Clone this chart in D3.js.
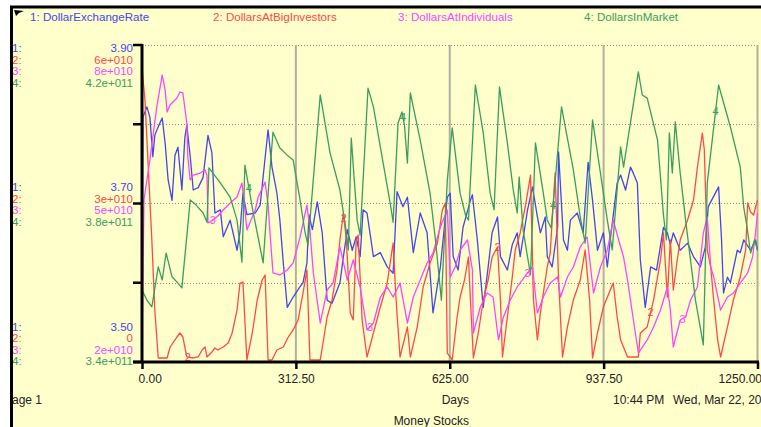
<!DOCTYPE html>
<html>
<head>
<meta charset="utf-8">
<script src="https://cdn.jsdelivr.net/npm/d3@7"></script>
<style>
body { margin: 0; background: #ffffcc; overflow: hidden; }
svg { display: block; font-family: Arial, "Liberation Sans", sans-serif; }
</style>
</head>
<body>
<svg id="chart"></svg>
<script>
// [day, value] pairs
var exchangeRate = [[0,3.578],[2,3.809],[10,3.822],[16,3.809],[22,3.759],[26,3.786],[33,3.797],[41,3.808],[47,3.776],[53,3.730],[61,3.704],[67,3.761],[73,3.771],[81,3.717],[87,3.783],[91,3.799],[98,3.759],[104,3.717],[114,3.720],[124,3.733],[134,3.786],[142,3.764],[148,3.688],[159,3.692],[165,3.658],[179,3.679],[193,3.641],[199,3.664],[205,3.713],[213,3.686],[230,3.688],[240,3.698],[256,3.793],[264,3.746],[274,3.713],[280,3.679],[287,3.625],[295,3.569],[307,3.582],[321,3.595],[327,3.600],[335,3.625],[339,3.686],[346,3.667],[356,3.702],[366,3.663],[376,3.578],[386,3.574],[402,3.600],[409,3.633],[417,3.667],[427,3.641],[435,3.658],[443,3.633],[449,3.692],[457,3.688],[470,3.633],[484,3.638],[498,3.620],[510,3.612],[518,3.715],[530,3.696],[539,3.708],[551,3.638],[565,3.688],[579,3.663],[591,3.562],[606,3.620],[620,3.708],[626,3.713],[632,3.633],[642,3.616],[652,3.670],[667,3.704],[671,3.711],[681,3.654],[693,3.569],[703,3.620],[711,3.663],[722,3.683],[728,3.633],[742,3.616],[752,3.648],[762,3.663],[768,3.633],[783,3.692],[793,3.721],[803,3.683],[809,3.663],[819,3.683],[823,3.633],[833,3.620],[844,3.670],[846,3.765],[852,3.698],[856,3.654],[864,3.641],[870,3.679],[884,3.688],[896,3.663],[906,3.752],[915,3.704],[925,3.641],[937,3.663],[945,3.620],[951,3.654],[965,3.726],[972,3.736],[982,3.717],[992,3.746],[998,3.738],[1006,3.726],[1012,3.629],[1022,3.569],[1033,3.620],[1045,3.616],[1059,3.670],[1067,3.663],[1073,3.648],[1079,3.663],[1093,3.641],[1108,3.650],[1120,3.633],[1134,3.620],[1144,3.645],[1150,3.696],[1171,3.721],[1177,3.654],[1181,3.587],[1189,3.607],[1195,3.600],[1209,3.641],[1215,3.638],[1222,3.654],[1236,3.641],[1246,3.654],[1250,3.641]];

// in units of 1e10 dollars
var bigInvestors = [[0,5.565],[6,4.959],[12,3.823],[20,2.309],[26,0.984],[33,0.076],[51,0.076],[57,0.284],[71,0.473],[77,0.549],[83,0.473],[91,0.095],[104,0.076],[114,0.095],[122,0.227],[128,0.284],[132,0.095],[142,0.189],[148,0.265],[154,0.227],[165,0.284],[175,0.360],[183,0.549],[193,0.984],[199,1.495],[205,1.514],[213,0.038],[224,0.549],[234,1.174],[244,1.552],[250,1.647],[256,0.038],[264,0.038],[274,0.227],[287,0.284],[297,0.473],[307,0.606],[317,0.795],[327,1.306],[335,1.741],[341,0.038],[362,0.038],[376,0.852],[386,1.174],[396,1.741],[402,2.309],[409,2.820],[415,2.309],[423,0.928],[429,0.795],[435,2.309],[439,2.404],[447,0.795],[457,0.095],[470,0.549],[484,1.041],[498,1.495],[510,2.252],[516,1.174],[524,0.095],[539,0.663],[545,0.095],[559,0.663],[571,1.420],[585,1.874],[600,2.252],[610,2.877],[616,3.010],[620,0.170],[630,0.038],[640,0.852],[646,1.230],[655,1.552],[663,1.987],[667,1.174],[673,0.076],[683,0.549],[693,1.174],[703,1.552],[711,1.987],[722,2.177],[728,1.174],[732,0.095],[742,0.852],[752,1.609],[758,2.120],[768,2.442],[779,2.972],[789,3.539],[795,1.174],[803,0.417],[809,0.928],[823,1.798],[829,2.063],[839,3.577],[846,1.552],[854,0.095],[864,0.663],[876,1.174],[890,1.552],[900,2.120],[909,1.174],[915,0.076],[925,0.549],[937,1.041],[951,1.363],[957,1.495],[965,0.852],[972,0.417],[986,0.095],[1008,0.095],[1012,0.549],[1026,0.663],[1039,1.174],[1053,1.931],[1059,2.442],[1067,1.230],[1073,2.309],[1079,1.363],[1087,1.931],[1093,2.309],[1108,2.688],[1120,3.066],[1128,3.691],[1138,4.334],[1142,4.013],[1148,2.120],[1155,1.798],[1161,1.174],[1169,0.417],[1175,0.095],[1189,0.663],[1201,1.174],[1215,1.609],[1226,2.120],[1230,3.010],[1236,2.839],[1242,2.782],[1250,3.066]];

// in units of 1e10 dollars
var individuals = [[0,2.284],[4,5.066],[16,5.823],[22,6.259],[30,6.827],[41,7.432],[47,7.148],[51,6.732],[57,6.864],[71,6.997],[77,7.110],[83,7.092],[91,6.524],[93,5.880],[98,5.445],[104,5.539],[118,5.577],[128,5.634],[132,5.539],[134,4.631],[144,4.688],[152,4.745],[165,4.877],[179,5.010],[193,5.123],[203,5.388],[207,5.066],[213,4.499],[230,4.877],[236,5.123],[250,5.407],[256,4.972],[260,4.442],[266,3.685],[280,3.647],[295,3.741],[307,3.874],[321,4.366],[335,4.972],[341,4.499],[348,3.685],[362,2.738],[376,3.363],[388,3.495],[402,4.177],[417,3.552],[429,3.931],[443,3.420],[457,2.606],[470,2.738],[484,3.230],[498,3.420],[510,3.230],[524,3.495],[539,2.738],[551,3.230],[565,3.552],[579,3.874],[591,4.063],[606,4.555],[620,4.877],[626,3.609],[636,3.798],[646,4.120],[661,4.309],[671,3.741],[673,2.549],[687,3.041],[701,3.306],[713,3.230],[724,2.417],[734,2.852],[748,3.174],[762,3.420],[783,3.685],[793,3.798],[803,2.928],[815,3.230],[829,3.495],[844,3.609],[850,3.230],[864,3.609],[876,3.798],[890,4.177],[904,4.366],[917,3.306],[931,3.798],[945,4.120],[957,4.688],[972,4.177],[978,3.987],[986,3.552],[998,2.795],[1008,2.170],[1026,2.417],[1039,2.663],[1053,2.984],[1067,3.420],[1073,2.984],[1079,2.284],[1093,2.795],[1104,2.852],[1114,3.174],[1128,3.420],[1140,4.442],[1148,4.745],[1155,3.798],[1161,3.609],[1175,2.984],[1189,3.230],[1201,3.306],[1215,3.495],[1230,3.685],[1240,3.987],[1246,4.442],[1250,4.820]];

// in units of 1e11 dollars
var inMarket = [[0,3.582],[10,3.556],[20,3.539],[33,3.640],[41,3.607],[49,3.675],[61,3.615],[73,3.599],[81,3.587],[98,3.809],[110,3.796],[124,3.776],[132,3.753],[136,3.890],[159,3.852],[179,3.816],[193,3.758],[203,3.652],[209,3.897],[226,3.776],[246,3.650],[254,3.791],[266,3.980],[280,3.940],[295,3.922],[307,3.910],[321,3.809],[331,3.728],[337,3.695],[362,4.074],[382,3.927],[402,3.834],[415,3.728],[419,3.683],[425,3.965],[437,3.758],[443,3.720],[459,4.091],[470,4.044],[484,3.943],[504,3.801],[510,3.753],[520,4.003],[528,4.031],[533,3.998],[539,3.902],[545,4.079],[565,3.960],[585,3.826],[596,3.708],[608,3.556],[620,3.859],[630,3.991],[646,3.826],[657,3.771],[663,3.758],[677,4.099],[693,3.978],[707,3.826],[715,3.784],[726,4.094],[742,3.953],[754,3.834],[762,3.776],[766,3.867],[774,3.733],[789,3.620],[799,3.953],[815,3.826],[823,3.758],[831,3.738],[852,4.044],[876,3.885],[890,3.766],[900,3.700],[915,4.011],[931,3.877],[945,3.758],[955,3.683],[972,3.943],[978,3.892],[1008,4.132],[1016,4.074],[1026,4.066],[1047,3.960],[1059,3.771],[1065,3.708],[1071,3.978],[1077,3.877],[1083,4.006],[1093,3.877],[1104,3.758],[1124,3.556],[1140,3.443],[1148,3.852],[1171,4.099],[1195,3.993],[1215,3.892],[1222,3.791],[1228,3.746],[1236,3.675],[1244,3.708],[1250,3.683]];

var dayTicks = [0, 312.5, 625, 937.5, 1250];
var rateTicks = ['3.90', '3.70', '3.50'];
var bigTicks = ['6e+010', '3e+010', '0'];
var indTicks = ['8e+010', '5e+010', '2e+010'];
var mktTicks = ['4.2e+011', '3.8e+011', '3.4e+011'];

var width = 761, height = 427,
    plotTop = 45, plotBottom = 362;

var x = d3.scaleLinear().domain([0, 1250]).range([142, 757.5]);
var yRate = d3.scaleLinear().domain([3.5, 3.9]).range([plotBottom, plotTop]);
var yBig = d3.scaleLinear().domain([0, 6]).range([plotBottom, plotTop]);
var yInd = d3.scaleLinear().domain([2, 8]).range([plotBottom, plotTop]);
var yMkt = d3.scaleLinear().domain([3.4, 4.2]).range([plotBottom, plotTop]);

var series = [
  {num: '1', name: 'DollarExchangeRate', color: '#4444f2', data: exchangeRate, y: yRate, ticks: rateTicks, legendX: 30, marks: []},
  {num: '2', name: 'DollarsAtBigInvestors', color: '#ff4848', data: bigInvestors, y: yBig, ticks: bigTicks, legendX: 213, marks: [93, 410, 722, 1033]},
  {num: '3', name: 'DollarsAtIndividuals', color: '#ff44ff', data: individuals, y: yInd, ticks: indTicks, legendX: 398, marks: [144, 463, 783, 1098]},
  {num: '4', name: 'DollarsInMarket', color: '#3a9d5d', data: inMarket, y: yMkt, ticks: mktTicks, legendX: 584, marks: [217, 530, 835, 1165]}
];

var svg = d3.select('#chart')
  .attr('width', width)
  .attr('height', height);

svg.append('rect').attr('x', 0).attr('y', 0).attr('width', width).attr('height', 6).attr('fill', '#fff');

// grid
var gridLevels = yRate.ticks(4).filter(function(d) { return d > 3.5; });
svg.selectAll('.hgrid')
  .data(gridLevels)
  .enter().append('line')
  .attr('class', 'hgrid')
  .attr('x1', x(0)).attr('x2', x(1250))
  .attr('y1', function(d) { return Math.round(yRate(d)) + 0.5; })
  .attr('y2', function(d) { return Math.round(yRate(d)) + 0.5; })
  .attr('stroke', '#8a8a80')
  .attr('stroke-width', 1)
  .attr('stroke-dasharray', '1,2');

svg.selectAll('.vgrid')
  .data(dayTicks.slice(1))
  .enter().append('line')
  .attr('class', 'vgrid')
  .attr('x1', function(d) { return x(d); }).attr('x2', function(d) { return x(d); })
  .attr('y1', plotTop).attr('y2', plotBottom)
  .attr('stroke', '#b0b0a0')
  .attr('stroke-width', 2);

// lines
var line = function(s) {
  return d3.line()
    .x(function(d) { return x(d[0]); })
    .y(function(d) { return s.y(d[1]); });
};

series.forEach(function(s) {
  svg.append('path')
    .datum(s.data)
    .attr('d', line(s))
    .attr('fill', 'none')
    .attr('stroke', s.color)
    .attr('stroke-width', 1.3)
    .attr('stroke-linejoin', 'round');
});

function valueAt(data, day) {
  var i = d3.bisector(function(d) { return d[0]; }).left(data, day);
  if (i <= 0) return data[0][1];
  var a = data[i - 1], b = data[i];
  return a[1] + (day - a[0]) / (b[0] - a[0]) * (b[1] - a[1]);
}

// series numbers along the lines
series.forEach(function(s) {
  svg.selectAll(null)
    .data(s.marks)
    .enter().append('text')
    .attr('x', function(d) { return x(d); })
    .attr('y', function(d) { return s.y(valueAt(s.data, d)) + 4; })
    .attr('text-anchor', 'middle')
    .attr('font-size', 11)
    .attr('fill', s.color)
    .text(s.num);
});

// legend
svg.selectAll('.legend')
  .data(series)
  .enter().append('text')
  .attr('class', 'legend')
  .attr('x', function(d) { return d.legendX; })
  .attr('y', 21)
  .attr('font-size', 11.6)
  .attr('fill', function(d) { return d.color; })
  .text(function(d) { return d.num + ': ' + d.name; });

svg.append('path')
  .attr('d', 'M14,10 L24,11 L19,13 L16,16 Z')
  .attr('fill', '#000');

// y label groups at top, middle and bottom
var labelLevels = [3.9, 3.7, 3.5],
    groupOffset = [7.3, -12.5, -31.5];

labelLevels.forEach(function(level, li) {
  series.forEach(function(s, si) {
    var row = svg.append('text')
      .attr('x', 12).attr('y', yRate(level) + groupOffset[li] + si * 11.5)
      .attr('font-size', 11.5)
      .attr('fill', s.color);
    row.append('tspan').text(s.num + ':');
    row.append('tspan')
      .attr('x', 133)
      .attr('text-anchor', 'end')
      .text(s.ticks[li]);
  });
});

// y axis
svg.append('line')
  .attr('x1', 142).attr('x2', 142)
  .attr('y1', plotTop - 1).attr('y2', plotBottom)
  .attr('stroke', '#000').attr('stroke-width', 3);

svg.selectAll('.ytick')
  .data(yRate.ticks(4))
  .enter().append('line')
  .attr('class', 'ytick')
  .attr('x1', 133).attr('x2', 142)
  .attr('y1', function(d) { return yRate(d); })
  .attr('y2', function(d) { return yRate(d); })
  .attr('stroke', '#000').attr('stroke-width', 2.5);

// x axis
svg.append('line')
  .attr('x1', 133).attr('x2', 759)
  .attr('y1', plotBottom).attr('y2', plotBottom)
  .attr('stroke', '#000').attr('stroke-width', 3);

var xAxis = svg.append('g')
  .attr('transform', 'translate(0,' + plotBottom + ')')
  .call(d3.axisBottom(x)
    .tickValues(dayTicks)
    .tickSize(7)
    .tickSizeOuter(0)
    .tickFormat(d3.format('.2f')));

xAxis.select('.domain').remove();
xAxis.selectAll('.tick line').attr('stroke', '#000').attr('stroke-width', 2.5);
xAxis.selectAll('.tick text')
  .attr('y', 21).attr('dy', 0)
  .attr('font-size', 12)
  .attr('font-family', 'Arial, "Liberation Sans", sans-serif')
  .attr('fill', '#222');
xAxis.select('.tick:first-of-type text').attr('text-anchor', 'start').attr('dx', -4);
xAxis.select('.tick:last-of-type text').attr('text-anchor', 'end').attr('dx', 4);

// footer texts
svg.append('text').attr('x', 469).attr('y', 404).attr('text-anchor', 'end')
  .attr('font-size', 12).attr('fill', '#222').text('Days');
svg.append('text').attr('x', 469).attr('y', 425).attr('text-anchor', 'end')
  .attr('font-size', 12).attr('fill', '#222').text('Money Stocks');
svg.append('text').attr('x', 613).attr('y', 404)
  .attr('font-size', 12).attr('fill', '#222').text('10:44 PM');
svg.append('text').attr('x', 673).attr('y', 404)
  .attr('font-size', 12).attr('fill', '#222').text('Wed, Mar 22, 2006');
svg.append('text').attr('x', 4).attr('y', 404)
  .attr('font-size', 12).attr('fill', '#222').text('Page 1');

// cover the left strip and draw the frame lines last
svg.append('rect').attr('x', 0).attr('y', 6).attr('width', 10).attr('height', height).attr('fill', '#fff');
svg.append('line').attr('x1', 10).attr('x2', width).attr('y1', 7).attr('y2', 7)
  .attr('stroke', '#000').attr('stroke-width', 3);
svg.append('line').attr('x1', 11.5).attr('x2', 11.5).attr('y1', 6).attr('y2', height)
  .attr('stroke', '#000').attr('stroke-width', 3);
</script>
</body>
</html>
